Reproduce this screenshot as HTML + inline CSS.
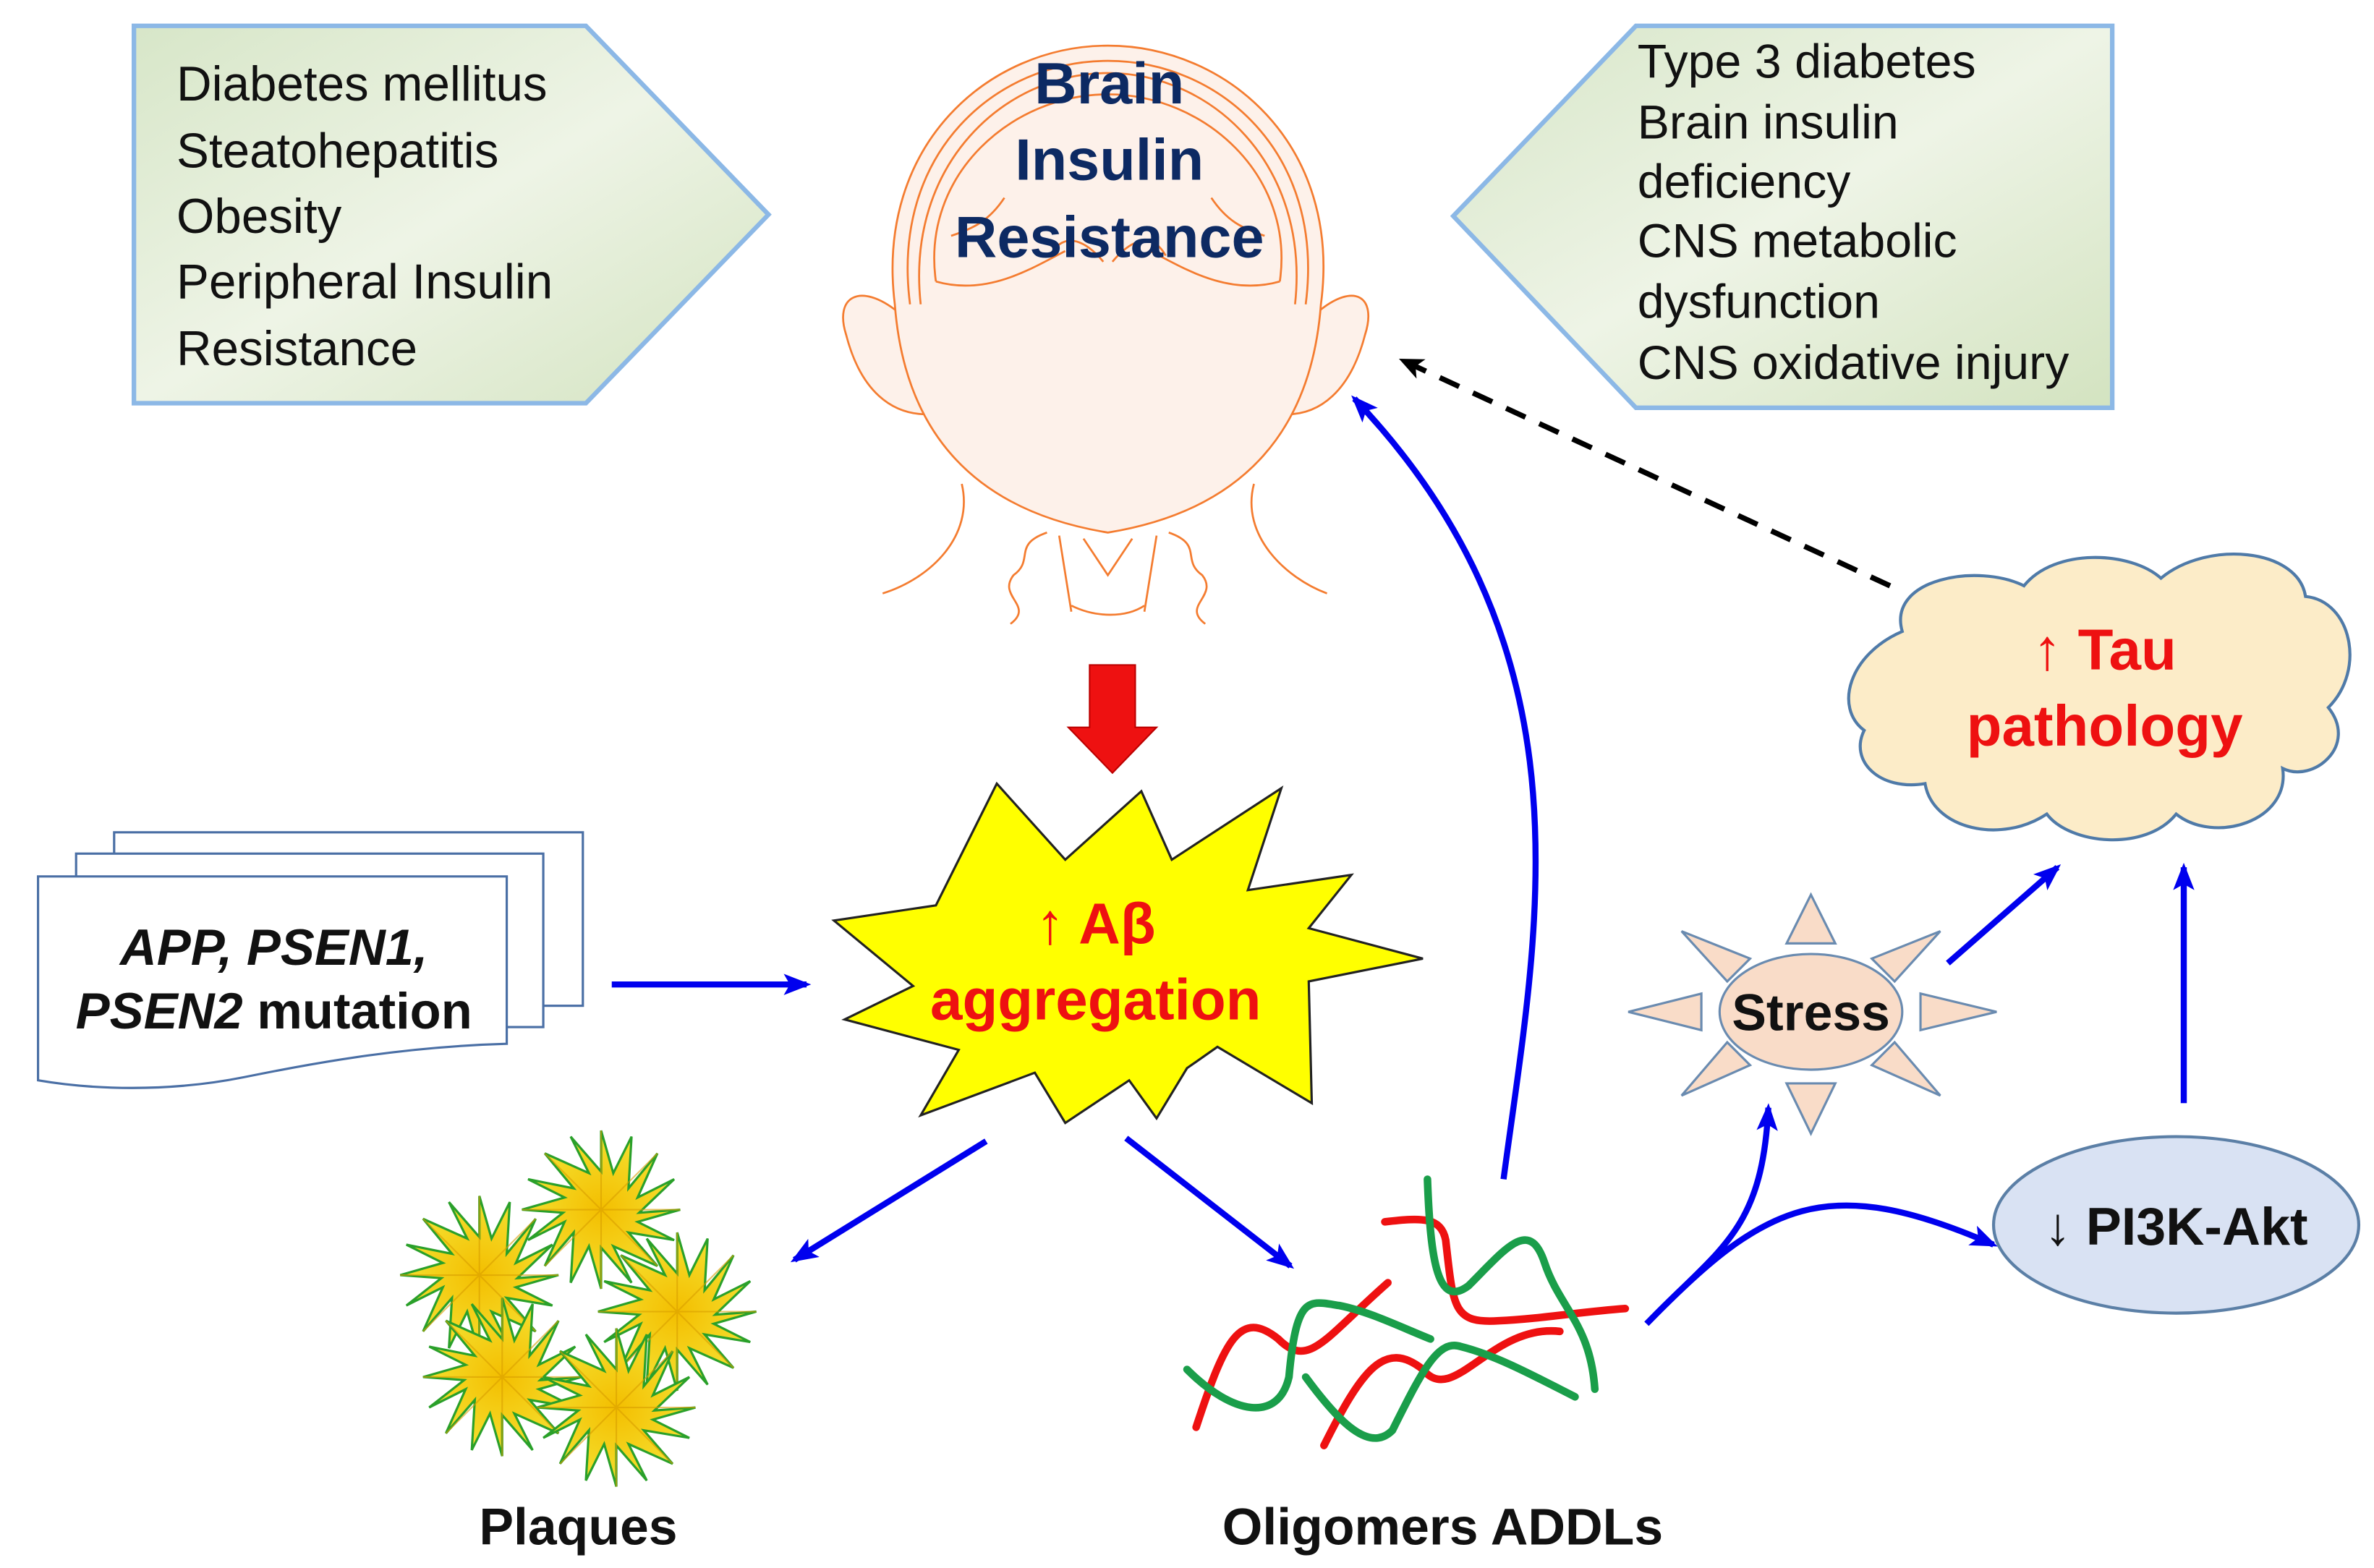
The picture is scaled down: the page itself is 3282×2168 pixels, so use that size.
<!DOCTYPE html>
<html><head><meta charset="utf-8"><style>
html,body{margin:0;padding:0;background:#fff;}
svg{display:block;}
text{font-family:"Liberation Sans",Arial,sans-serif;}
</style></head><body>
<svg width="3282" height="2168" viewBox="0 0 1560 1030.5" xmlns="http://www.w3.org/2000/svg">
<defs>
<linearGradient id="gp" x1="0" y1="0" x2="1" y2="1"><stop offset="0" stop-color="#d7e6c8"/><stop offset="0.5" stop-color="#eef4e6"/><stop offset="1" stop-color="#d3e3c0"/></linearGradient>
<radialGradient id="gs" cx="0.5" cy="0.5" r="0.5"><stop offset="0" stop-color="#f3be00"/><stop offset="1" stop-color="#f5e030"/></radialGradient>
<marker id="ab" markerWidth="18" markerHeight="14" refX="15" refY="7" orient="auto" markerUnits="userSpaceOnUse"><path d="M0,0 L18,7 L0,14 L4,7 Z" fill="#0000ee"/></marker>
<marker id="ak" markerWidth="16" markerHeight="14" refX="13" refY="7" orient="auto" markerUnits="userSpaceOnUse"><path d="M0,0 L16,7 L0,14 L4,7 Z" fill="#000"/></marker>
<g id="st"><polygon points="0,-52 8,-24 20,-48 18,-14 37,-37 24,-8 48,-20 25,2 52,0 24,8 48,20 18,15 37,37 8,24 20,48 0,25 0,52 -8,24 -20,48 -18,15 -37,37 -24,8 -48,20 -25,2 -52,0 -24,-8 -48,-20 -18,-14 -37,-37 -8,-24 -20,-48 0,-25" fill="url(#gs)" stroke="#2aa02a" stroke-width="1.5"/>
<path d="M0,-52 L0,0 M37,-37 L0,0 M52,0 L0,0 M37,37 L0,0 M0,52 L0,0 M-37,37 L0,0 M-52,0 L0,0 M-37,-37 L0,0" stroke="#d99e00" stroke-width="1" opacity="0.6"/></g>
</defs>

<!-- left pentagon -->
<polygon points="88,17 385,17 505,141 385,265 88,265" fill="url(#gp)" stroke="#8cb8e6" stroke-width="3"/>
<g font-size="32" fill="#111">
<text x="116" y="66">Diabetes mellitus</text>
<text x="116" y="110">Steatohepatitis</text>
<text x="116" y="153">Obesity</text>
<text x="116" y="196">Peripheral Insulin</text>
<text x="116" y="240">Resistance</text>
</g>
<!-- right pentagon -->
<polygon points="955,142 1075,17 1388,17 1388,268 1075,268" fill="url(#gp)" stroke="#8cb8e6" stroke-width="3"/>
<g font-size="31.5" fill="#111">
<text x="1076" y="51">Type 3 diabetes</text>
<text x="1076" y="91">Brain insulin</text>
<text x="1076" y="130">deficiency</text>
<text x="1076" y="169">CNS metabolic</text>
<text x="1076" y="209">dysfunction</text>
<text x="1076" y="249">CNS oxidative injury</text>
</g>

<!-- head -->
<g stroke="#f47c30" stroke-width="1.3" fill="#fdf1ea">
<path d="M590,205 C565,185 548,195 556,220 C565,255 585,275 615,272 Z"/>
<path d="M866,205 C890,185 905,195 897,220 C888,255 868,275 840,272 Z"/>
<path d="M588,200 C575,95 650,30 728,30 C806,30 882,95 868,200 C862,280 820,335 728,350 C636,335 594,280 588,200 Z"/>
<path d="M598,200 C585,100 655,40 728,40 C801,40 871,100 858,200" fill="none"/>
<path d="M605,200 C595,108 660,48 728,48 C796,48 861,108 851,200" fill="none"/>
<path d="M615,185 C605,115 665,62 728,62 C791,62 851,115 841,185" fill="none"/>
<path d="M615,185 C650,195 680,175 700,165 M841,185 C806,195 776,175 756,165 M625,155 C640,150 650,145 660,130 M831,155 C816,150 806,145 796,130 M690,168 C700,150 715,160 725,172 M766,168 C756,150 741,160 731,172" fill="none"/>
<path d="M632,318 C640,352 612,380 580,390 M824,318 C815,352 845,380 872,390" fill="none"/>
<path d="M688,350 C665,358 680,368 666,378 C655,392 680,398 664,410 M768,350 C791,358 776,368 790,378 C801,392 776,398 792,410 M696,352 L704,402 M760,352 L752,402 M704,398 C720,406 740,406 752,398 M712,354 L728,378 L744,354" fill="none"/>
</g>
<g font-weight="bold" fill="#0d2a63" text-anchor="middle" font-size="38.5">
<text x="729" y="68">Brain</text>
<text x="729" y="118">Insulin</text>
<text x="729" y="169">Resistance</text>
</g>

<!-- red down arrow -->
<polygon points="716,437 746,437 746,478 760,478 731,508 702,478 716,478" fill="#ee1111" stroke="#b00" stroke-width="1"/>

<!-- A-beta star -->
<polygon points="655,515 700,565 750,520 770,565 842,518 820,585 888,575 860,610 935,630 860,645 862,725 800,688 780,702 760,735 742,710 700,738 680,705 605,733 630,690 555,670 600,648 548,605 615,595 625,575" fill="#ffff00" stroke="#222" stroke-width="1.5"/>
<g font-weight="bold" fill="#ee1111" text-anchor="middle">
<text x="720" y="620" font-size="38">↑ Aβ</text>
<text x="720" y="670" font-size="38">aggregation</text>
</g>

<!-- doc stack -->
<g fill="#fff" stroke="#4a6fa5" stroke-width="1.5">
<rect x="75" y="547" width="308" height="114"/>
<rect x="50" y="561" width="307" height="114"/>
<path d="M25,576 L333,576 L333,686 C260,688 200,700 160,708 C110,718 60,716 25,710 Z"/>
</g>
<g font-weight="bold" font-size="33.5" fill="#111" text-anchor="middle">
<text x="180" y="634" font-style="italic">APP, PSEN1,</text>
<text x="180" y="676"><tspan font-style="italic">PSEN2</tspan> mutation</text>
</g>

<!-- arrows -->
<g stroke="#0000ee" stroke-width="4" fill="none" marker-end="url(#ab)">
<line x1="402" y1="647" x2="530" y2="647"/>
<line x1="648" y1="750" x2="522" y2="828"/>
<line x1="740" y1="748" x2="848" y2="832"/>
<path d="M988,775 C1010,610 1050,430 890,262"/>
<line x1="1280" y1="633" x2="1352" y2="570"/>
<line x1="1435" y1="725" x2="1435" y2="570"/>
<path d="M1082,870 C1130,820 1158,810 1162,728"/>
<path d="M1082,870 C1160,790 1200,770 1310,818"/>
</g>
<line x1="1242" y1="385" x2="922" y2="237" stroke="#000" stroke-width="3.5" stroke-dasharray="14,10" marker-end="url(#ak)"/>

<!-- cloud -->
<path d="M1250,415 C1240,380 1300,370 1330,385 C1350,360 1400,362 1420,380 C1450,355 1510,360 1515,392 C1545,395 1555,440 1530,465 C1550,490 1520,515 1500,505 C1505,540 1455,555 1430,535 C1410,560 1360,555 1345,535 C1315,555 1270,545 1265,515 C1235,520 1215,500 1225,480 C1205,465 1215,430 1250,415 Z" fill="#fcecc8" stroke="#4f7aa8" stroke-width="2"/>
<g font-weight="bold" fill="#ee1111" text-anchor="middle" font-size="38">
<text x="1383" y="440">↑ Tau</text>
<text x="1383" y="490">pathology</text>
</g>

<!-- stress sun -->
<g fill="#f9dcc8" stroke="#6a8bb0" stroke-width="1.5">
<polygon points="1190,588 1206,620 1174,620"/>
<polygon points="1190,745 1206,712 1174,712"/>
<polygon points="1070,665 1118,653 1118,677"/>
<polygon points="1312,665 1262,653 1262,677"/>
<polygon points="1105,612 1150,630 1135,645"/>
<polygon points="1275,612 1230,630 1245,645"/>
<polygon points="1105,720 1150,700 1135,685"/>
<polygon points="1275,720 1230,700 1245,685"/>
<ellipse cx="1190" cy="665" rx="60" ry="38"/>
</g>
<text x="1190" y="677" font-weight="bold" font-size="34" text-anchor="middle" fill="#111">Stress</text>

<!-- PI3K -->
<ellipse cx="1430" cy="805" rx="120" ry="58" fill="#d9e2f3" stroke="#5b7fa6" stroke-width="2"/>
<text x="1430" y="818" font-weight="bold" font-size="35" text-anchor="middle" fill="#111">↓ PI3K-Akt</text>

<!-- oligomers -->
<g fill="none" stroke-width="5" stroke-linecap="round">
<path d="M910,803 C935,800 947,800 950,815 C955,860 955,870 985,868 C1010,867 1040,862 1068,860" stroke="#ee1111"/>
<path d="M786,938 C805,880 815,860 840,880 C860,900 870,880 912,843" stroke="#ee1111"/>
<path d="M870,950 C895,900 910,880 935,900 C955,925 980,870 1025,875" stroke="#ee1111"/>
<path d="M938,775 C940,830 945,860 965,845 C990,820 1005,800 1015,830 C1025,860 1045,870 1048,913" stroke="#1a9e4a"/>
<path d="M780,900 C810,930 840,935 847,905 C852,850 860,855 880,858 C900,862 920,872 940,880" stroke="#1a9e4a"/>
<path d="M858,905 C880,935 900,955 915,940 C935,900 945,880 960,885 C980,890 1000,900 1035,918" stroke="#1a9e4a"/>
</g>

<!-- plaques -->
<use href="#st" transform="translate(315,838)"/>
<use href="#st" transform="translate(395,795)"/>
<use href="#st" transform="translate(445,862)"/>
<use href="#st" transform="translate(330,905)"/>
<use href="#st" transform="translate(405,925)"/>

<g font-weight="bold" font-size="34" fill="#111" text-anchor="middle">
<text x="380" y="1015">Plaques</text>
<text x="948" y="1015">Oligomers ADDLs</text>
</g>
</svg>
</body></html>
